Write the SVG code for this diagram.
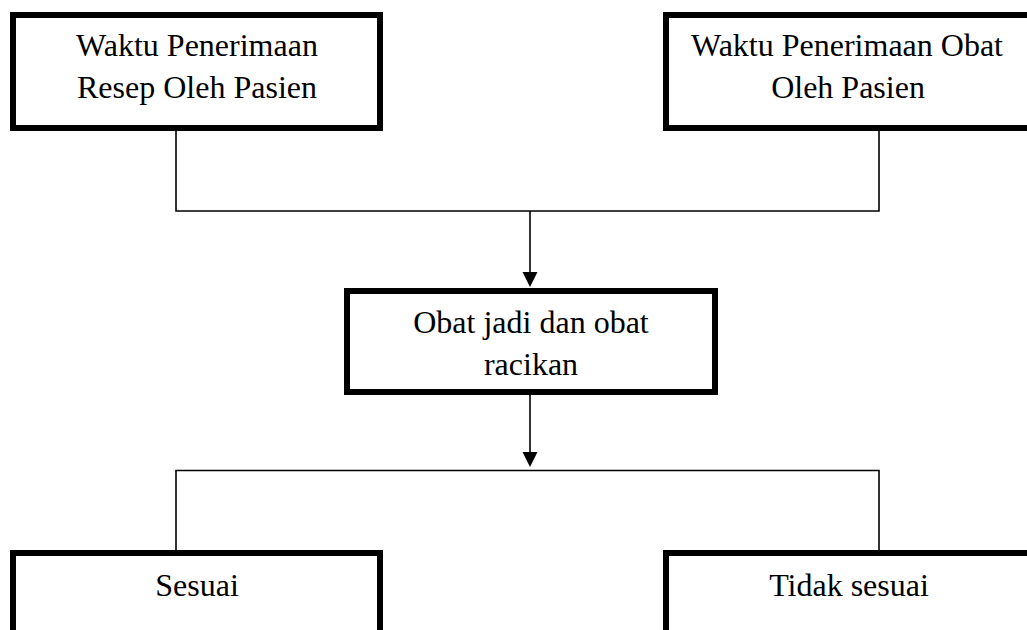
<svg xmlns="http://www.w3.org/2000/svg" width="1027" height="630" viewBox="0 0 1027 630">
<style>
.box{fill:#fff;stroke:#000;stroke-width:6}
.t{font-family:"Liberation Serif","Times New Roman",serif;font-size:32px;fill:#000;text-anchor:middle}
.ln{fill:none;stroke:#000;stroke-width:1.6}
.ah{fill:#000}
</style>
<rect width="1027" height="630" fill="#fff"/>
<g id="connectors">
<polyline class="ln" points="176,131 176,211 879,211 879,131"/>
<line class="ln" x1="530" y1="211" x2="530" y2="275"/>
<polygon class="ah" points="522.5,272 537.5,272 530,287"/>
<line class="ln" x1="530" y1="395" x2="530" y2="455"/>
<polygon class="ah" points="522.5,452 537.5,452 530,467"/>
<polyline class="ln" points="176,550 176,470.5 879,470.5 879,550"/>
</g>
<g id="node-resep">
<rect class="box" x="13" y="15" width="367" height="113"/>
<text class="t" x="197" y="56">Waktu Penerimaan</text>
<text class="t" x="197" y="98">Resep Oleh Pasien</text>
</g>
<g id="node-obat">
<rect class="box" x="666" y="15" width="380" height="113"/>
<text class="t" x="847" y="56">Waktu Penerimaan Obat</text>
<text class="t" x="848" y="98">Oleh Pasien</text>
</g>
<g id="node-jenis">
<rect class="box" x="347" y="291" width="368" height="101"/>
<text class="t" x="531" y="333">Obat jadi dan obat</text>
<text class="t" x="531" y="375">racikan</text>
</g>
<g id="node-sesuai">
<rect class="box" x="13" y="553" width="367" height="100"/>
<text class="t" x="197" y="596">Sesuai</text>
</g>
<g id="node-tidak">
<rect class="box" x="666" y="553" width="380" height="100"/>
<text class="t" x="849" y="596">Tidak sesuai</text>
</g>
</svg>
